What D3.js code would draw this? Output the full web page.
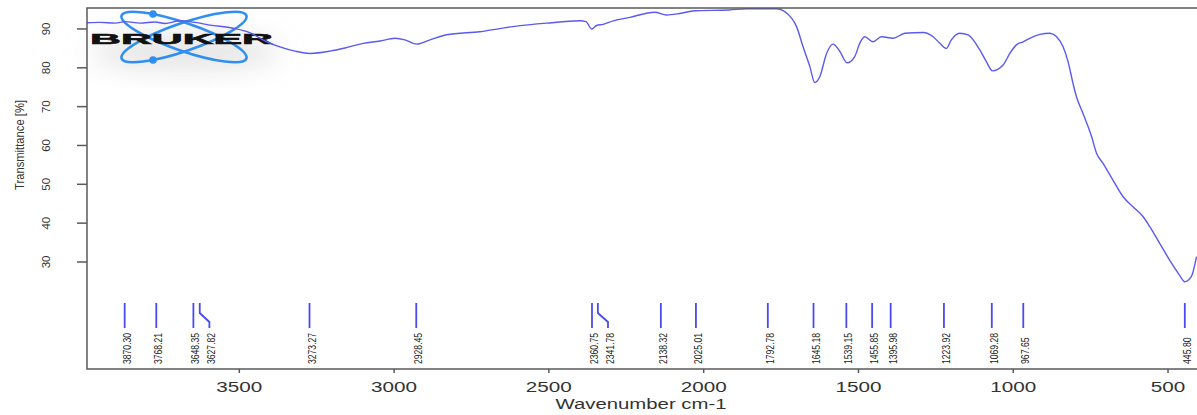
<!DOCTYPE html>
<html lang="en">
<head>
<meta charset="UTF-8">
<title>IR spectrum</title>
<script src="https://d3js.org/d3.v7.min.js"></script>
<style>
  body { margin: 0; background: #fff; }
  svg { display: block; font-family: "Liberation Sans", Arial, sans-serif; }
  .axis-line { stroke: #5a5a5a; stroke-width: 1.5; fill: none; }
  .tick-lbl { fill: #333; }
</style>
</head>
<body>
<svg id="chart" width="1197" height="415"></svg>
<script>
// spectrum (wavenumber cm-1, transmittance %)
const wavenumbers = [3992, 3950, 3901, 3869, 3820, 3772, 3740, 3691, 3643, 3595, 3520, 3465, 3411, 3369, 3320, 3272,
  3207, 3159, 3100, 3046, 2997, 2965, 2927, 2884, 2830, 2723, 2616, 2507, 2400, 2380, 2362, 2346, 2325, 2292, 2238,
  2158, 2120, 2077, 2029, 1917, 1862, 1765, 1716, 1700, 1679, 1657, 1641, 1625, 1603, 1582, 1560, 1537, 1512, 1496,
  1480, 1453, 1426, 1388, 1350, 1291, 1259, 1237, 1216, 1200, 1173, 1146, 1108, 1087, 1067, 1033, 1011, 990, 968,
  947, 914, 882, 860, 839, 823, 807, 796, 775, 747, 731, 710, 678, 645, 613, 581, 559, 527, 495, 463, 446, 425, 408];
const transmittance = [91.6, 91.7, 91.5, 91.9, 91.5, 91.8, 91.4, 92.1, 91.7, 91.0, 90.2, 89.0, 86.7, 85.4, 84.3, 83.7,
  84.3, 85.1, 86.3, 86.9, 87.6, 87.2, 86.1, 87.2, 88.5, 89.3, 90.6, 91.5, 92.1, 91.9, 90.0, 90.9, 91.2, 92.1, 93.0,
  94.3, 93.6, 94.0, 94.7, 94.9, 95.2, 95.2, 92.8, 90.6, 85.4, 80.3, 76.2, 77.7, 83.7, 86.1, 84.2, 81.3, 82.9, 86.3,
  88.0, 86.7, 88.0, 87.6, 88.9, 89.1, 88.0, 86.3, 85.0, 87.2, 88.9, 88.5, 84.6, 81.6, 79.2, 80.7, 83.7, 85.9, 86.7,
  87.6, 88.6, 88.9, 88.0, 85.4, 81.6, 76.0, 72.6, 68.3, 62.3, 58.0, 55.4, 51.1, 46.8, 44.2, 41.7, 39.1, 34.8, 30.5,
  26.6, 24.9, 26.2, 31.4];

// picked peaks
const peaks = [3870.30, 3768.21, 3648.35, 3627.82, 3273.27, 2928.45, 2360.75, 2341.78, 2138.32, 2025.01,
  1792.78, 1645.18, 1539.15, 1455.85, 1395.98, 1223.92, 1069.28, 967.65, 445.80];

const xTicks = [3500, 3000, 2500, 2000, 1500, 1000, 500];
const yTicks = [30, 40, 50, 60, 70, 80, 90];

const svg = d3.select("#chart");
const plotL = 87, plotR = 1199, plotT = 8, plotB = 368;

const x = d3.scaleLinear().domain([3992, 400]).range([plotL, plotR]);
const y = d3.scaleLinear().domain([2.7, 95.4]).range([plotB, plotT]);

// soft shadow under the logo
const defs = svg.append("defs");
defs.append("filter").attr("id", "blur").attr("x", "-50%").attr("y", "-50%").attr("width", "200%").attr("height", "200%")
  .append("feGaussianBlur").attr("stdDeviation", 14);
defs.append("clipPath").attr("id", "plotclip")
  .append("rect").attr("x", plotL).attr("y", plotT).attr("width", plotR - plotL).attr("height", plotB - plotT);

svg.append("ellipse").attr("cx", 185).attr("cy", 52).attr("rx", 95).attr("ry", 18)
  .attr("fill", "#cfcfcf").attr("opacity", 0.55).attr("filter", "url(#blur)");

// logo
const logo = svg.append("g");
[19, -19].forEach(a => {
  logo.append("ellipse").attr("cx", 184).attr("cy", 37).attr("rx", 66).attr("ry", 14)
    .attr("transform", `rotate(${a},184,37)`)
    .attr("fill", "none").attr("stroke", "#2f8ef0").attr("stroke-width", 2.6);
});
logo.append("circle").attr("cx", 153).attr("cy", 14).attr("r", 3.8).attr("fill", "#2f8ef0");
logo.append("circle").attr("cx", 153).attr("cy", 60).attr("r", 3.8).attr("fill", "#2f8ef0");
logo.append("text").attr("x", 90).attr("y", 43.5).attr("font-size", 15.5).attr("font-weight", 900)
  .attr("stroke", "#111").attr("stroke-width", 0.6)
  .attr("textLength", 183).attr("lengthAdjust", "spacingAndGlyphs").attr("fill", "#111").text("BRUKER");

// spectrum line
const line = d3.line().x((d, i) => x(wavenumbers[i])).y(d => y(d)).curve(d3.curveMonotoneX);
svg.append("path").datum(transmittance).attr("d", line).attr("clip-path", "url(#plotclip)")
  .attr("fill", "none").attr("stroke", "#5a5af0").attr("stroke-width", 1.4);

// frame
svg.append("path").attr("class", "axis-line")
  .attr("d", `M${plotR},${plotT}H${plotL}V${plotB + 1}H${plotR}`);

// x axis
const xAxis = svg.append("g");
xTicks.forEach(t => {
  xAxis.append("line").attr("x1", x(t)).attr("x2", x(t)).attr("y1", plotB + 1).attr("y2", plotB + 5)
    .attr("stroke", "#5a5a5a").attr("stroke-width", 1.5);
  xAxis.append("text").attr("class", "tick-lbl").attr("x", x(t)).attr("y", 391.5)
    .attr("text-anchor", "middle").attr("font-size", 14)
    .attr("textLength", String(t).length * 11.5).attr("lengthAdjust", "spacingAndGlyphs").text(t);
});
svg.append("text").attr("x", (plotL + plotR) / 2 - 2).attr("y", 408.5).attr("text-anchor", "middle")
  .attr("font-size", 15.5).attr("fill", "#333")
  .attr("textLength", 171).attr("lengthAdjust", "spacingAndGlyphs").text("Wavenumber cm-1");

// y axis
const yAxis = svg.append("g");
yTicks.forEach(t => {
  yAxis.append("line").attr("x1", plotL - 10).attr("x2", plotL).attr("y1", y(t)).attr("y2", y(t))
    .attr("stroke", "#5a5a5a").attr("stroke-width", 1.5);
  yAxis.append("text").attr("class", "tick-lbl").attr("text-anchor", "middle").attr("font-size", 11.5)
    .attr("transform", `translate(50,${y(t)}) rotate(-90)`).text(t);
});
svg.append("text").attr("text-anchor", "middle").attr("font-size", 12.5).attr("fill", "#333")
  .attr("transform", "translate(24,145) rotate(-90)")
  .attr("textLength", 90).attr("lengthAdjust", "spacingAndGlyphs").text("Transmittance [%]");

// peak markers, labels pushed apart when too close
let prev = -Infinity;
const marks = peaks.map(p => {
  const px = x(p);
  const lx = Math.max(px, prev + 16);
  prev = lx;
  return { p, px, lx };
});
const pk = svg.append("g");
marks.forEach(m => {
  const d = m.lx === m.px
    ? `M${m.px},303V328`
    : `M${m.px},303V313L${m.lx},322V328`;
  pk.append("path").attr("d", d).attr("fill", "none").attr("stroke", "#4a4af0").attr("stroke-width", 1.8);
  const s = m.p.toFixed(2);
  pk.append("text").attr("font-size", 11.5).attr("fill", "#222")
    .attr("transform", `translate(${m.lx + 6},364) rotate(-90)`)
    .attr("textLength", s.length * 4.45).attr("lengthAdjust", "spacingAndGlyphs").text(s);
});
</script>
</body>
</html>
